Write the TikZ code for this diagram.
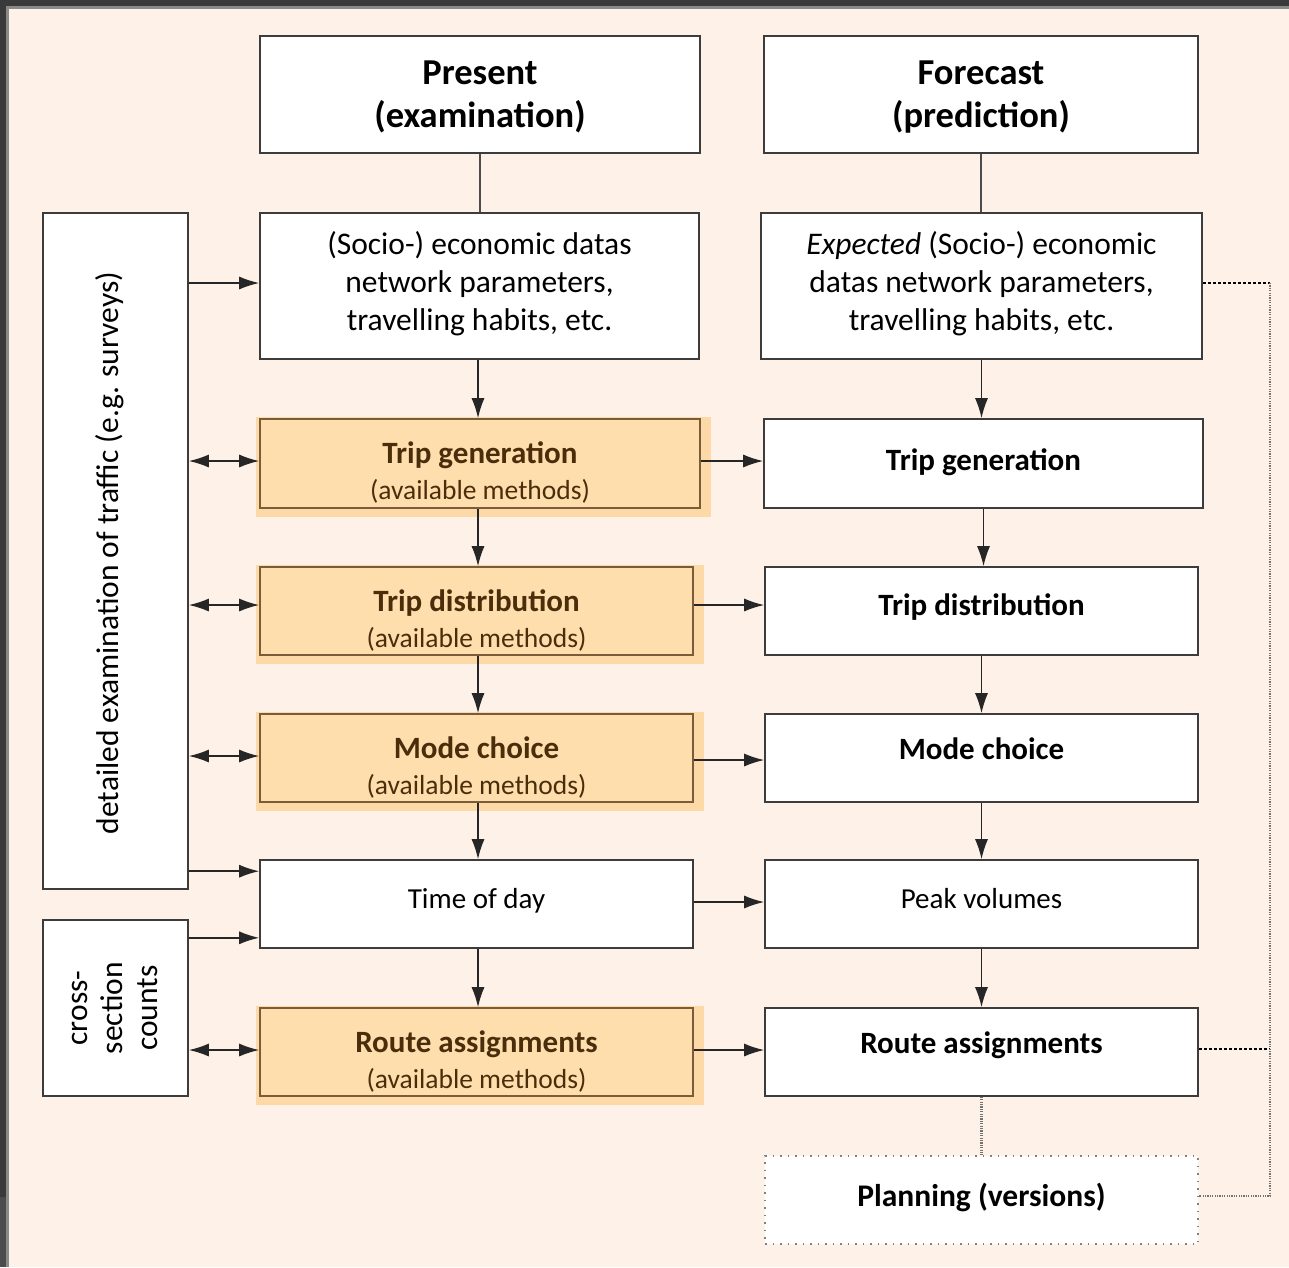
\documentclass[tikz,border=0pt]{standalone}
\usepackage{fontspec}
\setmainfont{Carlito}
\usetikzlibrary{arrows.meta,calc}
\definecolor{peach}{RGB}{253,241,232}
\definecolor{framedark}{RGB}{58,58,58}
\definecolor{framelight}{RGB}{138,138,138}
\definecolor{orfill}{RGB}{255,222,173}
\definecolor{orglow}{RGB}{253,217,168}
\definecolor{orline}{RGB}{122,92,58}
\definecolor{brown}{RGB}{74,46,12}
\definecolor{boxline}{RGB}{60,60,60}
\pgfdeclarelayer{back}
\pgfdeclarelayer{glowlayer}
\pgfsetlayers{back,glowlayer,main}
\tikzset{
  wbox/.style={draw=boxline, line width=1.6pt, fill=white, inner sep=0pt, align=center, text=black},
  obox/.style={draw=orline, line width=1.6pt, fill=orfill, inner sep=0pt, align=center, text=brown},
  pbox/.style={draw=gray, line width=1.6pt, dash pattern=on 1.5pt off 6pt, fill=white, inner sep=0pt, align=center},
  regf/.style={font=\fontsize{31.5}{38}\selectfont},
  headf/.style={font=\fontsize{36.5}{43}\selectfont\bfseries},
  boldf/.style={font=\fontsize{31}{36}\selectfont\bfseries},
  arr/.style={line width=1.5pt, draw=black!85, -{Latex[length=20pt,width=13pt]}},
  dbl/.style={line width=1.5pt, draw=black!85, {Latex[length=20pt,width=13pt]}-{Latex[length=20pt,width=13pt]}},
  plain/.style={line width=1.5pt, draw=black!70},
  dotv/.style={line width=2.2pt, draw=black!55, dash pattern=on 1.2pt off 1.2pt},
  doth/.style={line width=1.3pt, draw=black, dash pattern=on 3pt off 2pt},
}
% shift a block of text vertically by #1 without changing its reported size
\newcommand{\shiftv}[2]{\raisebox{#1}[\height][\depth]{\begin{tabular}{@{}c@{}}#2\end{tabular}}}
\newcommand{\otext}[1]{\shiftv{-11pt}{{\fontsize{31}{36}\selectfont\bfseries #1}\\{\fontsize{27.5}{36}\selectfont (available methods)}}}
\begin{document}
\begin{tikzpicture}[x=1pt,y=-1pt]
\useasboundingbox (0,0) rectangle (1289,1267);
\begin{pgfonlayer}{back}
  \fill[framedark] (0,0) rectangle (1289,1267);
  \fill[black!70] (0,1197) rectangle (6,1267);
  \fill[framelight] (6,6) rectangle (1289,1267);
  \fill[peach] (9,8.5) rectangle (1289,1267);
\end{pgfonlayer}

% left column
\node[wbox, headf, minimum width=440pt, minimum height=117pt] (pre) at (480,94.5) {\shiftv{-2.5pt}{Present\\(examination)}};
\node[wbox, regf, minimum width=439pt, minimum height=146pt] (soc) at (479.5,286) {\shiftv{1.5pt}{(Socio-) economic datas\\network parameters,\\travelling habits, etc.}};
\node[obox, font=\fontsize{27.5}{36}\selectfont, minimum width=440pt, minimum height=89pt] (tgL) at (480,463.5) {\otext{Trip generation}};
\node[obox, font=\fontsize{27.5}{36}\selectfont, minimum width=433pt, minimum height=88pt] (tdL) at (476.5,611) {\otext{Trip distribution}};
\node[obox, font=\fontsize{27.5}{36}\selectfont, minimum width=433pt, minimum height=88pt] (mcL) at (476.5,758) {\otext{Mode choice}};
\node[wbox, font=\fontsize{29}{35}\selectfont, minimum width=433pt, minimum height=88pt] (tim) at (476.5,904) {\shiftv{3pt}{Time of day}};
\node[obox, font=\fontsize{27.5}{36}\selectfont, minimum width=433pt, minimum height=88pt] (raL) at (476.5,1052) {\otext{Route assignments}};

% right column
\node[wbox, headf, minimum width=434pt, minimum height=117pt] (fc) at (981,94.5) {\shiftv{-2.5pt}{Forecast\\(prediction)}};
\node[wbox, regf, minimum width=441pt, minimum height=146pt] (exp) at (981.5,286) {\shiftv{1.5pt}{\textit{Expected} (Socio-) economic\\datas network parameters,\\travelling habits, etc.}};
\node[wbox, boldf, minimum width=439pt, minimum height=89pt] (tgR) at (983.5,463.5) {\shiftv{0pt}{Trip generation}};
\node[wbox, boldf, minimum width=433pt, minimum height=88pt] (tdR) at (981.5,611) {\shiftv{3pt}{Trip distribution}};
\node[wbox, boldf, minimum width=433pt, minimum height=88pt] (mcR) at (981.5,758) {\shiftv{6pt}{Mode choice}};
\node[wbox, font=\fontsize{29}{35}\selectfont, minimum width=433pt, minimum height=88pt] (pk) at (981.5,904) {\shiftv{3pt}{Peak volumes}};
\node[wbox, boldf, minimum width=433pt, minimum height=88pt] (raR) at (981.5,1052) {\shiftv{6pt}{Route assignments}};
\node[pbox, font=\fontsize{31.5}{36}\selectfont\bfseries, minimum width=433pt, minimum height=88pt] (pl) at (981.5,1200) {\shiftv{1pt}{Planning (versions)}};

% side boxes
\node[wbox, minimum width=145pt, minimum height=676pt] (det) at (115.5,551) {};
\node[regf, rotate=90] (dett) at (110,553) {detailed examination of traffic (e.g. surveys)};
\node[wbox, minimum width=145pt, minimum height=176pt] (cs) at (115.5,1008) {};
\node[font=\fontsize{31.5}{35}\selectfont, rotate=90, align=center] (cst) at (115,1008) {cross-\\section\\counts};

% glows
\begin{pgfonlayer}{glowlayer}
  \foreach \n in {tgL,tdL,mcL,raL}{
    \fill[orglow] ([xshift=-3pt,yshift=1pt]\n.north west) rectangle ([xshift=10pt,yshift=-8pt]\n.south east);
  }
\end{pgfonlayer}

% vertical connectors
\draw[plain] (pre.south) -- (pre.south |- soc.north);
\draw[plain] (fc.south) -- (fc.south |- exp.north);
\coordinate (v1) at ($(soc.south)+(-1.5,0)$);
\coordinate (v2) at ($(tgL.south)+(-2,0)$);
\coordinate (v3) at ($(tdL.south)+(1.5,0)$);
\coordinate (v4) at ($(mcL.south)+(1.5,0)$);
\coordinate (v5) at ($(tim.south)+(1.5,0)$);
\draw[arr] (v1) -- (v1 |- tgL.north);
\draw[arr] (v2) -- (v2 |- tdL.north);
\draw[arr] (v3) -- (v3 |- mcL.north);
\draw[arr] (v4) -- (v4 |- tim.north);
\draw[arr] (v5) -- (v5 |- raL.north);
\draw[arr] (exp.south) -- (exp.south |- tgR.north);
\draw[arr] (tgR.south) -- (tgR.south |- tdR.north);
\draw[arr] (tdR.south) -- (tdR.south |- mcR.north);
\draw[arr] (mcR.south) -- (mcR.south |- pk.north);
\draw[arr] (pk.south) -- (pk.south |- raR.north);

% horizontal left -> right
\coordinate (h1) at ($(tgL.east)+(0,-2.5)$);
\coordinate (h2) at ($(tdL.east)+(0,-6)$);
\coordinate (h3) at ($(mcL.east)+(0,2)$);
\coordinate (h4) at ($(tim.east)+(0,-2)$);
\coordinate (h5) at ($(raL.east)+(0,-2)$);
\draw[arr] (h1) -- (h1 -| tgR.west);
\draw[arr] (h2) -- (h2 -| tdR.west);
\draw[arr] (h3) -- (h3 -| mcR.west);
\draw[arr] (h4) -- (h4 -| pk.west);
\draw[arr] (h5) -- (h5 -| raR.west);

% from side boxes
\coordinate (s1) at ($(soc.west)+(0,-3)$);
\coordinate (s2) at ($(tgL.west)+(0,-2.5)$);
\coordinate (s3) at ($(tdL.west)+(0,-6)$);
\coordinate (s4) at ($(mcL.west)+(0,-2)$);
\coordinate (s5) at ($(tim.north west)+(0,12)$);
\coordinate (s6) at ($(tim.south west)+(0,-11)$);
\coordinate (s7) at ($(raL.west)+(0,-2)$);
\draw[arr] (s1 -| det.east) -- (s1);
\draw[dbl] (s2 -| det.east) -- (s2);
\draw[dbl] (s3 -| det.east) -- (s3);
\draw[dbl] (s4 -| det.east) -- (s4);
\draw[arr] (s5 -| det.east) -- (s5);
\draw[arr] (s6 -| cs.east) -- (s6);
\draw[dbl] (s7 -| cs.east) -- (s7);

% dotted feedback
\coordinate (c1) at (1270,283);
\coordinate (c2) at (1270,1196);
\coordinate (d1) at ($(exp.east)+(0,-3)$);
\coordinate (d2) at ($(raR.east)+(0,-3)$);
\draw[doth] (d1) -- (d1 -| c1);
\draw[doth] (d2) -- (d2 -| c1);
\draw[dotv] (c1) -- (c2) -- (c2 -| pl.east);
\draw[dotv] (raR.south) -- (raR.south |- pl.north);
\end{tikzpicture}
\end{document}
